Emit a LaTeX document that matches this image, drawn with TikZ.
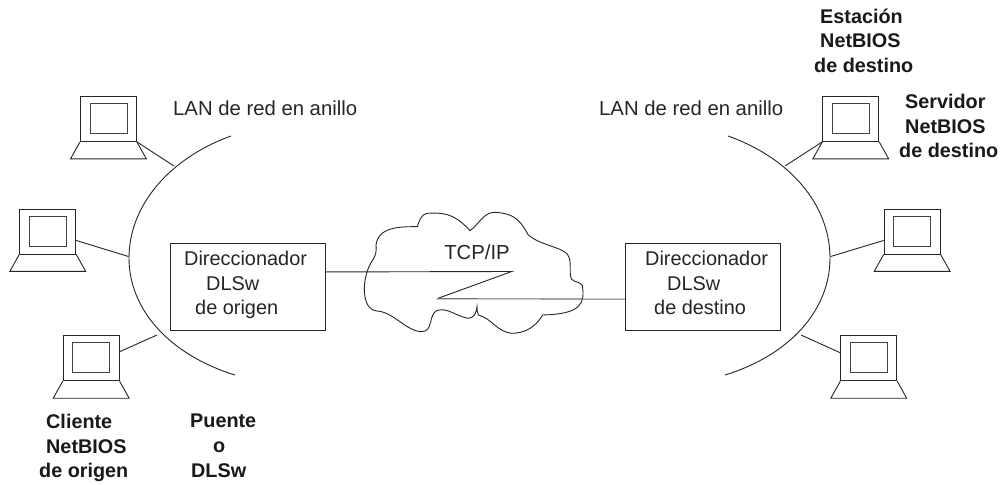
\documentclass[tikz,border=0pt]{standalone}
\usepackage{fontspec}
\setmainfont{Liberation Sans}
\newcommand{\pcunit}[3]{%
  \node[pcbox,anchor=north west] (#1) at (#2,#3) {};
  \node[pcscreen] (#1s) at (#1.center) {};
  \coordinate (#1l) at ([xshift=-9.5pt,yshift=-17pt]#1.south west);
  \coordinate (#1r) at ([xshift=9.5pt,yshift=-17pt]#1.south east);
  \draw[wire] (#1.south west) -- (#1l) -- (#1r) -- (#1.south east);
}
\tikzset{
  x=1pt,y=-1pt,
  wire/.style={draw=black!85,line width=0.9pt},
  softwire/.style={draw=black!55,line width=1.1pt},
  pcbox/.style={draw=black!85,line width=0.9pt,minimum width=56pt,minimum height=45pt,inner sep=0pt},
  pcscreen/.style={draw=black!75,line width=0.9pt,minimum width=37pt,minimum height=30pt,inner sep=0pt,yshift=0.5pt},
  routerbox/.style={draw=black!85,line width=0.9pt,minimum width=155pt,minimum height=87pt,inner sep=0pt,anchor=north west},
  txt/.style={font=\fontsize{19.9}{24.5}\selectfont,text=black!85,inner sep=0pt},
  lantxt/.style={font=\fontsize{20.3}{24.5}\selectfont,text=black!85,inner sep=0pt},
  boldtxt/.style={font=\fontsize{19.8}{24.7}\selectfont\bfseries,text=black!90,inner sep=0pt,align=left,anchor=north west},
}
\begin{document}
\begin{tikzpicture}
\useasboundingbox (0,0) rectangle (1000,484);
\fill[white] (0,0) rectangle (1000,484);
% rings
\draw[wire] (231,136) .. controls (170,158) and (129,205) .. (129,258) .. controls (129,310) and (170,355) .. (235,375);
\draw[wire] (728,136) .. controls (790,158) and (830,205) .. (830,258) .. controls (830,310) and (790,355) .. (725,375);
\coordinate (la) at (174,166);
\coordinate (lb) at (128.5,256.5);
\coordinate (lc) at (157,335);
\coordinate (ra) at (785,166);
\coordinate (rb) at (830.5,256.5);
\coordinate (rc) at (801,335);
% computers
\pcunit{cA}{80}{96}
\pcunit{cB}{19.3}{208.5}
\pcunit{cC}{62.7}{335.3}
\pcunit{cD}{822.3}{96}
\pcunit{cE}{883.7}{208.5}
\pcunit{cF}{840.3}{335.3}
\draw[wire] (cA.south east) -- (la);
\draw[wire] ([yshift=-9pt]cB.east) -- (lb);
\draw[wire] ([yshift=6.5pt]cC.east) -- (lc);
\draw[wire] (cD.south west) -- (ra);
\draw[wire] ([yshift=-9pt]cE.west) -- (rb);
\draw[wire] ([yshift=5.5pt]cF.west) -- (rc);
% cloud
\begin{scope}[shift={(340,190)},x=0.3333pt,y=-0.3333pt]
\draw[wire] (232,110) .. controls (238,95) and (240,75) .. (262,70)
  .. controls (330,65) and (355,85) .. (390,122)
  .. controls (420,100) and (430,67) .. (465,67)
  .. controls (530,70) and (545,100) .. (565,135)
  .. controls (600,165) and (660,170) .. (682,192)
  .. controls (698,215) and (685,250) .. (695,268)
  .. controls (705,278) and (722,275) .. (727,287)
  .. controls (735,340) and (725,372) .. (608,375)
  .. controls (585,415) and (550,430) .. (515,430)
  .. controls (470,425) and (455,385) .. (415,375)
  .. controls (411,368) and (412,360) .. (411,350)
  .. controls (410,370) and (400,385) .. (385,385)
  .. controls (350,380) and (320,350) .. (290,362)
  .. controls (265,375) and (280,425) .. (245,425)
  .. controls (200,425) and (160,365) .. (110,363)
  .. controls (70,360) and (65,290) .. (83,240)
  .. controls (95,205) and (112,205) .. (108,165)
  .. controls (115,110) and (180,110) .. (232,110) -- cycle;
\end{scope}
% routers
\node[routerbox] (rl) at (170,243) {};
\node[routerbox] (rr) at (625,243) {};
\node[txt,align=left,anchor=north west] (rlt) at (184,251) {Direccionador\\\hspace*{22pt}DLSw\\\hspace*{11pt}de origen};
\node[txt,align=left,anchor=north west] (rrt) at (645,251) {Direccionador\\\hspace*{22pt}DLSw\\\hspace*{9pt}de destino};
% links
\coordinate (za) at (511.7,271.5);
\coordinate (zb) at (437,298.7);
\draw[wire] ([yshift=15pt]rl.east) -- (za) -- (zb);
\draw[softwire] (zb) -- ([yshift=-12.2pt]rr.west);
% labels
\node[lantxt] (tcp) at (477,252) {TCP/IP};
\node[lantxt,anchor=west] (lanl) at (173,108) {LAN de red en anillo};
\node[lantxt,anchor=west] (lanr) at (599,108) {LAN de red en anillo};
\node[boldtxt] (est) at (814,8.5) {\hspace*{6pt}Estación\\\hspace*{6pt}NetBIOS\\de destino};
\node[boldtxt] (srv) at (899,94) {\hspace*{6pt}Servidor\\\hspace*{6pt}NetBIOS\\de destino};
\node[boldtxt] (cli) at (39,414) {\hspace*{7pt}Cliente\\\hspace*{7pt}NetBIOS\\de origen};
\node[boldtxt] (pue) at (190,414) {Puente\\\hspace*{23pt}o\\\hspace*{1pt}DLSw};
\end{tikzpicture}
\end{document}
